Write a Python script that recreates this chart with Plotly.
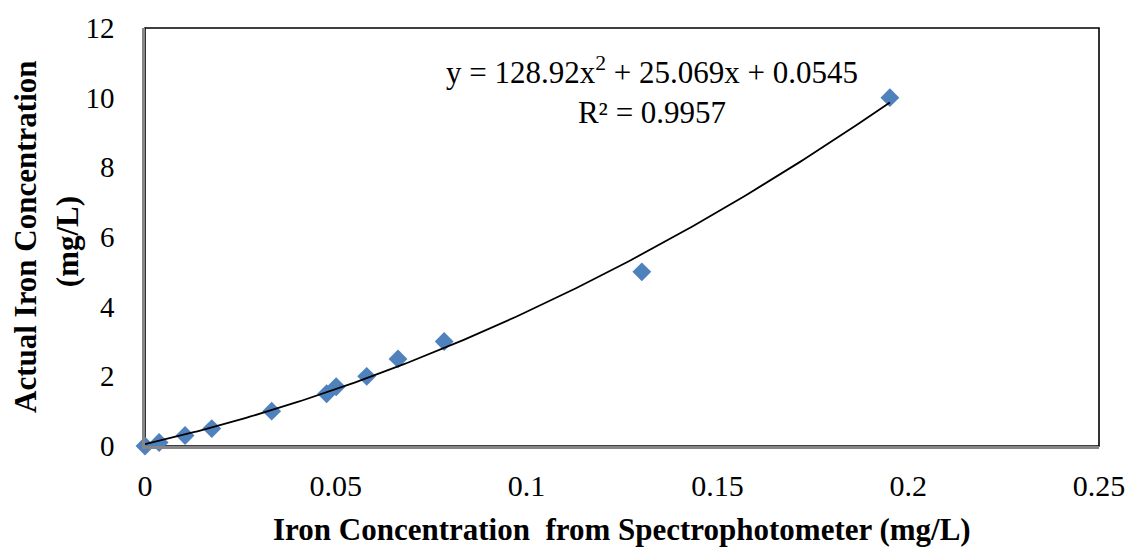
import numpy as np
import plotly.graph_objects as go

# Data
spectro_x = [0.0, 0.0037, 0.0105, 0.0175, 0.0332, 0.0476, 0.0501, 0.0581, 0.0663, 0.0784, 0.1302, 0.1952]
actual_y = [0.0, 0.1, 0.3, 0.5, 1.0, 1.5, 1.7, 2.0, 2.5, 3.0, 5.0, 10.0]

# Polynomial trendline coefficients (as printed on the chart)
coef_a = 128.92
coef_b = 25.069
coef_c = 0.0545
r_squared = 0.9957

x_ticks = [0, 0.05, 0.1, 0.15, 0.2, 0.25]
y_ticks = [0, 2, 4, 6, 8, 10, 12]

fit_x = np.linspace(min(spectro_x), max(spectro_x), 200)
fit_y = coef_a * fit_x**2 + coef_b * fit_x + coef_c

FONT = "Liberation Serif, Times New Roman, serif"

fig = go.Figure()
fig.add_trace(go.Scatter(
    x=spectro_x, y=actual_y, mode="markers",
    marker=dict(symbol="diamond", size=14.5, color="#4F81BD", line=dict(width=0)),
    cliponaxis=False, showlegend=False, hoverinfo="x+y",
))
fig.add_trace(go.Scatter(
    x=fit_x, y=fit_y, mode="lines",
    line=dict(color="black", width=1.8),
    cliponaxis=False, showlegend=False, hoverinfo="skip",
))

fig.update_layout(
    width=1138, height=552,
    margin=dict(l=145, r=39, t=21, b=106),
    paper_bgcolor="white", plot_bgcolor="white",
    font=dict(family=FONT, color="black", size=29),
    xaxis=dict(
        range=[0, 0.25], tickvals=x_ticks, ticktext=[f"{v:g}" for v in x_ticks],
        showgrid=False, zeroline=False,
        showline=True, linecolor="#868686", linewidth=2.5,
        ticks="", ticklabelstandoff=11,
        tickfont=dict(family=FONT, size=30, color="black"),
    ),
    yaxis=dict(
        range=[0, 12], tickvals=y_ticks, ticktext=[str(v) for v in y_ticks],
        showgrid=False, zeroline=False,
        showline=True, linecolor="#868686", linewidth=2.5,
        ticks="", ticklabelstandoff=22,
        tickfont=dict(family=FONT, size=29, color="black"),
    ),
    shapes=[dict(type="rect", xref="paper", yref="paper", x0=0, x1=1, y0=0, y1=1,
                 line=dict(color="black", width=1.6), layer="below")],
    annotations=[
        dict(text="Actual Iron Concentration", textangle=-90,
             xref="paper", yref="paper", x=-0.1258, y=0.5,
             xanchor="center", yanchor="middle", showarrow=False,
             font=dict(family=FONT, size=31, color="black", weight="bold")),
        dict(text="(mg/L)", textangle=-90,
             xref="paper", yref="paper", x=-0.0818, y=0.49,
             xanchor="center", yanchor="middle", showarrow=False,
             font=dict(family=FONT, size=31, color="black", weight="bold")),
        dict(text="Iron Concentration  from Spectrophotometer (mg/L)",
             xref="paper", yref="paper", x=0.5, y=-0.2,
             xanchor="center", yanchor="middle", showarrow=False,
             font=dict(family=FONT, size=31, color="black", weight="bold")),
        dict(text=f"y = {coef_a}x<sup>2</sup> + {coef_b}x + {coef_c}<br>R² = {r_squared}",
             xref="x", yref="y", x=0.1329, y=10.2,
             xanchor="center", yanchor="middle", showarrow=False, align="center",
             font=dict(family=FONT, size=31, color="black")),
    ],
)

fig.write_html("out.html")
